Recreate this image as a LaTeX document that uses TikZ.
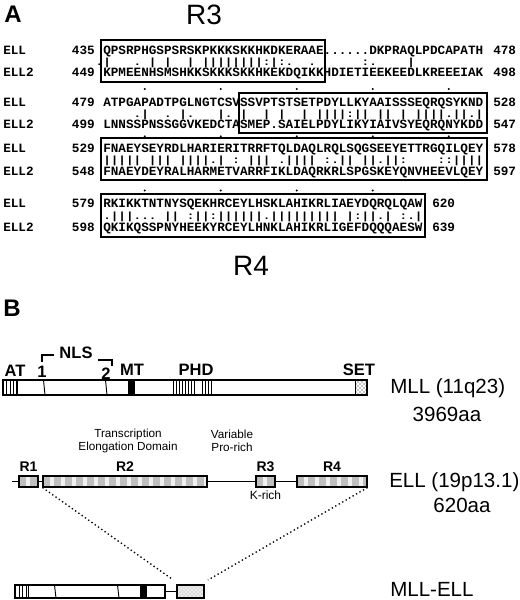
\documentclass[tikz,border=0pt]{standalone}
\usepackage{graphicx}
\usepackage{fontspec}
\setmainfont{Liberation Sans}
\newfontfamily\seqfont{Liberation Mono}
\usetikzlibrary{positioning,patterns}
\newcommand\matchline[1]{\scalebox{1}[0.82]{#1}}

\begin{document}
\begin{tikzpicture}[x=0.75pt, y=-0.75pt,
   seq/.style={anchor=base west, inner sep=0pt,
               font=\seqfont\bfseries\fontsize{9.5}{10}\selectfont\frenchspacing},
   seqnum/.style={seq, anchor=base east},
   alnbox/.style={draw, line width=1pt},
   regionlab/.style={inner sep=0pt, font=\fontsize{21}{21}\selectfont},
   panel/.style={inner sep=0pt, font=\bfseries\fontsize{18}{18}\selectfont},
   motif/.style={inner sep=0pt, font=\bfseries\fontsize{12.4}{13}\selectfont},
   dlab/.style={inner sep=0pt, font=\bfseries\fontsize{10.5}{11}\selectfont},
   note/.style={align=center, inner sep=0pt, font=\fontsize{8.8}{9.8}\selectfont},
   gene/.style={anchor=west, inner sep=0pt, font=\fontsize{15.4}{16}\selectfont},
   mllbar/.style={draw, line width=0.9pt},
   ellbox/.style={draw, line width=0.8pt, fill=gray!50, inner sep=0pt,
                  minimum height=8.25pt,
                  path picture={\foreach \k in {0,...,15}
                    \fill[gray!12] ([xshift={5.25pt+\k*8.25pt}]path picture bounding box.south west)
                      rectangle ++(3pt,9pt);}}]
  \useasboundingbox (0,0) rectangle (520,600);

  % ---- A: ELL / ELL2 alignment
  \node[panel] (pa) at (13,14) {A};
  \node[regionlab] (lr3) at (204,15) {R3};
  \node[regionlab] (lr4) at (251,266) {R4};

  \node[seq] (n1a) at (3,54) {ELL};
  \node[seqnum] (p1a) at (95,54) {435};
  \node[seq] (s1a) at (103,54) {QPSRPHGSPSRSKPKKKSKKHKDKERAAE......DKPRAQLPDCAPATH};
  \node[seq] (m1) at (95.4,65) {\matchline{.|~~~.~|~|~~|~||||||||:|:.~~.~~~~~~:.~~~~|}};
  \node[seq] (n1b) at (3,76) {ELL2};
  \node[seqnum] (p1b) at (95,76) {449};
  \node[seq] (s1b) at (103,76) {KPMEENHSMSHKKSKKKSKKHKEKDQIKKHDIETIEEKEEDLKREEEIAK};
  \node[seq] (q1a) at (493,54) {478};
  \node[seq] (q1b) at (493,76) {498};

  \node[seq] (n2a) at (3,106) {ELL};
  \node[seqnum] (p2a) at (95,106) {479};
  \node[seq] (s2a) at (103,106) {ATPGAPADTPGLNGTCSVSSVPTSTSETPDYLLKYAAISSSEQRQSYKND};
  \node[seq] (m2) at (103,117) {\matchline{~~~~.|~~.~|.~~~|.~|~~|~|~~|~||||:||~||~|~||||.||.|}};
  \node[seq] (n2b) at (3,128) {ELL2};
  \node[seqnum] (p2b) at (95,128) {499};
  \node[seq] (s2b) at (103,128) {LNNSSPNSSGGVKEDCTASMEP.SAIELPDYLIKYIAIVSYEQRQNYKDD};
  \node[seq] (q2a) at (493,106) {528};
  \node[seq] (q2b) at (493,128) {547};

  \node[seq] (n3a) at (3,152) {ELL};
  \node[seqnum] (p3a) at (95,152) {529};
  \node[seq] (s3a) at (103,152) {FNAEYSEYRDLHARIERITRRFTQLDAQLRQLSQGSEEYETTRGQILQEY};
  \node[seq] (m3) at (103,163.5) {\matchline{|||||~|||~||||.|~:~|||~.||||~:.||~||.||:~~~~::||||}};
  \node[seq] (n3b) at (3,175) {ELL2};
  \node[seqnum] (p3b) at (95,175) {548};
  \node[seq] (s3b) at (103,175) {FNAEYDEYRALHARMETVARRFIKLDAQRKRLSPGSKEYQNVHEEVLQEY};
  \node[seq] (q3a) at (493,152) {578};
  \node[seq] (q3b) at (493,175) {597};

  \node[seq] (n4a) at (3,207) {ELL};
  \node[seqnum] (p4a) at (95,207) {579};
  \node[seq] (s4a) at (103,207) {RKIKKTNTNYSQEKHRCEYLHSKLAHIKRLIAEYDQRQLQAW};
  \node[seq] (m4) at (103,219) {\matchline{.|||...~||~:||:||||||.|||||||||~|:||.|~:.|}};
  \node[seq] (n4b) at (3,231) {ELL2};
  \node[seqnum] (p4b) at (95,231) {598};
  \node[seq] (s4b) at (103,231) {QKIKQSSPNYHEEKYRCEYLHNKLAHIKRLIGEFDQQQAESW};
  \node[seq] (q4a) at (432,207) {620};
  \node[seq] (q4b) at (432,231) {639};

  % conserved blocks
  \draw[alnbox] (101,40) rectangle (325,82);
  \draw[alnbox] (239,93) rectangle (487,133);
  \draw[alnbox] (101,138) rectangle (487,180);
  \draw[alnbox] (101,194) rectangle (425,237);
  % ruler dots every 10 residues
  \foreach \c in {6,16,...,46} {
    \fill ({103+(\c-0.5)*7.6},89) circle[radius=0.8pt];
    \fill ({103+(\c-0.5)*7.6},136.3) circle[radius=0.8pt];
  }
  \foreach \c in {6,16,...,36}
    \fill ({103+(\c-0.5)*7.6},190.5) circle[radius=0.8pt];

  % ---- B: MLL, ELL and the fusion
  \node[panel] (pb) at (12,308) {B};

  \draw[mllbar] (3,380) rectangle (367,395);
  \foreach \x in {6.5,10,13.5} \draw[line width=0.5pt] (\x,380) -- (\x,395);
  \draw[line width=1pt] (17,380) -- (17,395);
  \draw[line width=0.7pt] (43.5,380) -- (45,395);
  \draw[line width=0.7pt] (105.5,380) -- (107,395);
  \fill (128,380) rectangle (135,395);
  \foreach \x in {173,176,...,194} \draw[line width=0.5pt] (\x,380) -- (\x,395);
  \foreach \x in {202,205,...,213} \draw[line width=0.5pt] (\x,380) -- (\x,395);
  \draw[line width=0.6pt, pattern=crosshatch dots] (355,380) rectangle (367,395);

  \node[motif] (at) at (15,371) {AT};
  \node[motif] (nls1) at (42,372) {1};
  \node[motif] (nls2) at (106,374) {2};
  \node[motif] (mt) at (132,370) {MT};
  \node[motif] (phd) at (196,370) {PHD};
  \node[motif] (set) at (359,370) {SET};
  \node[motif] (nls) at (76,353) {NLS};
  \draw[line width=0.8pt] (42,362) -- (42,355) -- (54,355);
  \draw[line width=0.8pt] (98,360) -- (112,360) -- (112,366);
  \node[gene] (mll) at (390,388) {MLL (11q23)};
  \node[gene, anchor=center] (mlllen) at (447,414) {3969aa};

  \node[note] (ted) at (128,441) {Transcription\\Elongation Domain};
  \node[note] (var) at (232,441) {Variable\\Pro-rich};

  \coordinate (ell0) at (12,481.5);
  \node[ellbox, minimum width=14.25pt] (r1) at (28.5,481.5) {};
  \node[ellbox, minimum width=123pt] (r2) at (125,481.5) {};
  \node[ellbox, minimum width=14.25pt] (r3) at (265.5,481.5) {};
  \node[ellbox, minimum width=52.5pt] (r4) at (332,481.5) {};
  \draw[line width=0.8pt] (ell0) -- (r1);
  \draw[line width=0.8pt] (r1) -- (r2);
  \draw[line width=0.8pt] (r2) -- (r3);
  \draw[line width=0.8pt] (r3) -- (r4);
  \node[dlab, above=3pt of r1] (l1) {R1};
  \node[dlab, above=3pt of r2] (l2) {R2};
  \node[dlab, above=3pt of r3] (l3) {R3};
  \node[dlab, above=3pt of r4] (l4) {R4};
  \node[inner sep=0pt, font=\fontsize{9}{10}\selectfont, below=2pt of r3] (krich) {K-rich};
  \node[gene] (ell) at (389,482) {ELL (19p13.1)};
  \node[gene, anchor=center] (elllen) at (462,505) {620aa};

  \node[draw, line width=0.9pt, inner sep=0pt, minimum width=112.5pt,
        minimum height=9.75pt] (fmll) at (90,591.5) {};
  \node[draw, line width=0.8pt, inner sep=0pt, minimum width=20.25pt,
        minimum height=9.75pt, preaction={fill=gray!15},
        pattern=crosshatch dots, pattern color=gray!70] (fell) at (190.5,591.5) {};
  \draw[line width=0.8pt] (fmll) -- (fell);
  \foreach \x in {19,22.5,26} \draw[line width=0.5pt] (\x,585) -- (\x,598);
  \draw[line width=1pt] (28.5,585) -- (28.5,598);
  \draw[line width=0.7pt] (54.5,585) -- (56,598);
  \draw[line width=0.7pt] (117.5,585) -- (119,598);
  \fill (140,585) rectangle (147,598);
  \node[gene] (fus) at (390,589) {MLL-ELL};

  \coordinate (fl) at (172,579);
  \coordinate (fr) at (208,580);
  \draw[dotted, line width=1pt] (r2.south west) -- (fl);
  \draw[dotted, line width=1pt] (r4.south east) -- (fr);
\end{tikzpicture}
\end{document}
